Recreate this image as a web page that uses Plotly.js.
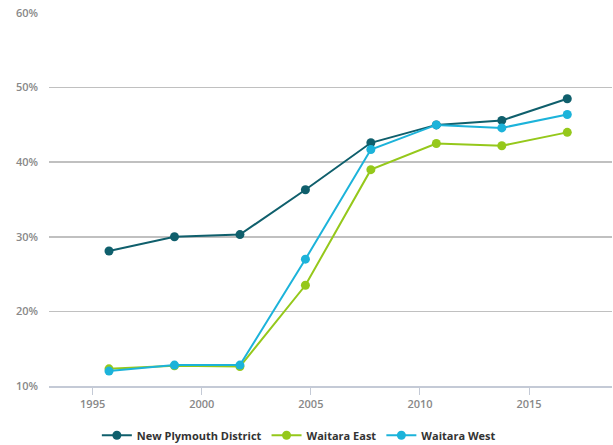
<!DOCTYPE html>
<html>
<head>
<meta charset="utf-8">
<script src="https://cdn.plot.ly/plotly-3.0.1.min.js"></script>
<style>html,body{margin:0;padding:0;background:#fff;}#chart{width:613px;height:445px;}</style>
</head>
<body>
<div id="chart"></div>
<script>
// Survey points (decimal years)
const years = [1995.75, 1998.75, 2001.75, 2004.75, 2007.75, 2010.75, 2013.75, 2016.75];
const seriesNames = ["New Plymouth District", "Waitara East", "Waitara West"];
const newPlymouth = [28.1, 30.0, 30.3, 36.3, 42.6, 45.0, 45.6, 48.5];
const waitaraEast = [12.3, 12.7, 12.6, 23.5, 39.0, 42.5, 42.2, 44.0];
const waitaraWest = [12.0, 12.8, 12.8, 27.0, 41.7, 45.0, 44.6, 46.4];
const yTicks = [10, 20, 30, 40, 50, 60];
const yTickLabels = ["10%", "20%", "30%", "40%", "50%", "60%"];
const xTicks = [1995, 2000, 2005, 2010, 2015];

const colors = ["#0f5f6c", "#95c81b", "#1cb3da"];
const data = [newPlymouth, waitaraEast, waitaraWest].map((vals, i) => ({
  x: years, y: vals, name: seriesNames[i], type: "scatter", mode: "lines+markers",
  line: {color: colors[i], width: 2}, marker: {color: colors[i], size: 9},
  hoverinfo: "none"
}));

const layout = {
  width: 613, height: 445,
  margin: {l: 49, r: 1, t: 13, b: 59},
  paper_bgcolor: "#fff", plot_bgcolor: "#fff",
  showlegend: true,
  legend: {orientation: "h", x: 0.085, xanchor: "left", xref: "paper",
    y: 0.022, yanchor: "middle", yref: "container",
    font: {family: "Open Sans, sans-serif", size: 11, color: "#333", weight: 700},
    itemwidth: 30, tracegroupgap: 0},
  xaxis: {range: [1993.0, 2018.8], tickvals: xTicks, ticktext: xTicks.map(String),
    showgrid: false, zeroline: false, showline: true, linecolor: "#c4cad6", linewidth: 2,
    ticks: "outside", ticklen: 7, tickcolor: "#c4cad6", tickwidth: 1,
    tickfont: {family: "Open Sans, sans-serif", size: 11, color: "#888", weight: 600}},
  yaxis: {range: [10, 60], tickvals: yTicks, ticktext: yTickLabels,
    showgrid: true, gridcolor: "#c0c0c0", gridwidth: 1.5, zeroline: false, showline: false,
    ticks: "", ticklabelstandoff: 10,
    tickfont: {family: "Open Sans, sans-serif", size: 11, color: "#888", weight: 600}}
};
Plotly.newPlot("chart", data, layout, {displayModeBar: false, staticPlot: true});
</script>
</body>
</html>
